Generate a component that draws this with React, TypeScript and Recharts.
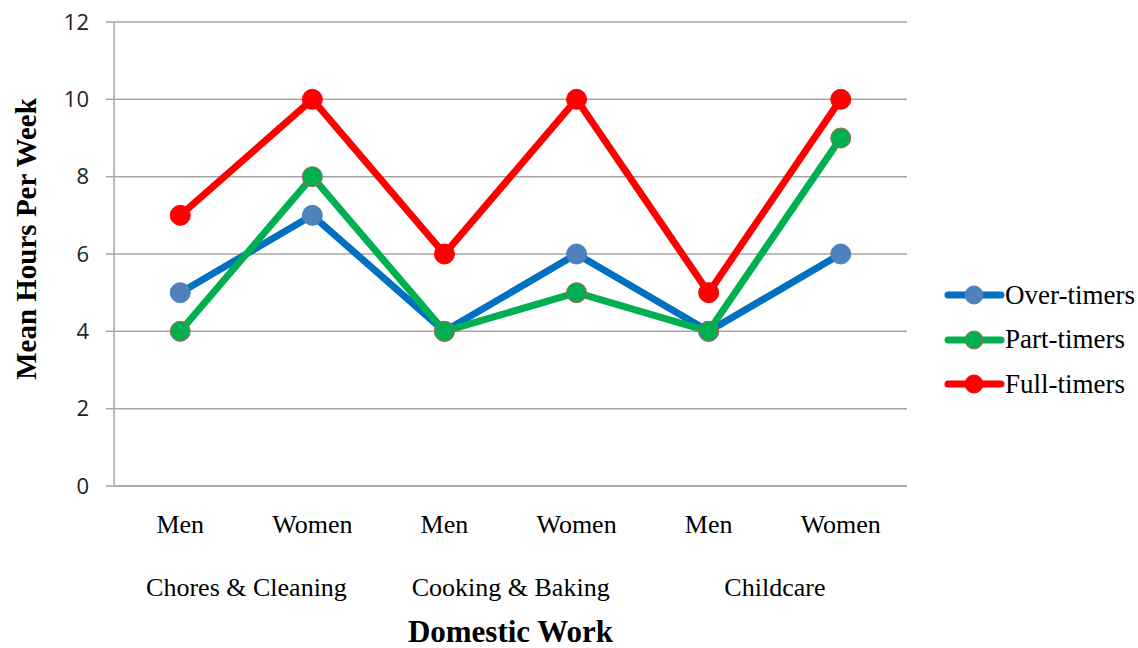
import React from 'react';
import { LineChart, Line, XAxis, YAxis, CartesianGrid } from 'recharts';

const categories = ['Men', 'Women', 'Men', 'Women', 'Men', 'Women'];
const groups = ['Chores & Cleaning', 'Cooking & Baking', 'Childcare'];
const overTimers = [5, 7, 4, 6, 4, 6];
const partTimers = [4, 8, 4, 5, 4, 9];
const fullTimers = [7, 10, 6, 10, 5, 10];
const yTicks = [0, 2, 4, 6, 8, 10, 12];

const data = categories.map((c, i) => ({
    name: c,
    idx: i,
    over: overTimers[i],
    part: partTimers[i],
    full: fullTimers[i],
}));

const series = [
    { key: 'over', label: 'Over-timers', line: '#0070C0', dot: '#4F81BD', dotStroke: '#4F81BD' },
    { key: 'part', label: 'Part-timers', line: '#00B050', dot: '#00B050', dotStroke: '#B0604D' },
    { key: 'full', label: 'Full-timers', line: '#FF0000', dot: '#FF0000', dotStroke: '#FF0000' },
];

const serif = '"Liberation Serif", "Times New Roman", serif';
const sans = '"Open Sans", "Noto Sans", sans-serif';
const BAND = 132.5;

// category label plus the group name centred under each Men/Women pair
const CategoryTick = (props: any) => {
    const { x, y, index } = props;
    return (
        <g>
            <text x={x} y={y + 39} textAnchor="middle" fontFamily={serif} fontSize={26} fill="#000">
                {categories[index]}
            </text>
            {index % 2 === 0 && (
                <text x={x + BAND / 2} y={y + 102} textAnchor="middle" fontFamily={serif} fontSize={26} fill="#000">
                    {groups[index / 2]}
                </text>
            )}
        </g>
    );
};

const LegendBox = () => (
    <div
        style={{
            position: 'absolute',
            left: 943,
            top: 273,
            width: 195,
            fontFamily: serif,
            fontSize: 27,
            color: '#000',
        }}
    >
        {series.map((s) => (
            <div key={s.key} style={{ display: 'flex', alignItems: 'center', height: 44.5, whiteSpace: 'nowrap' }}>
                <svg width={62} height={24} style={{ flex: 'none' }}>
                    <line x1={5} y1={12} x2={58} y2={12} stroke={s.line} strokeWidth={7} strokeLinecap="round" />
                    <circle cx={31} cy={12} r={9} fill={s.dot} stroke={s.dotStroke} strokeWidth={1} />
                </svg>
                <span>{s.label}</span>
            </div>
        ))}
    </div>
);

export default function App() {
    return (
        <div style={{ position: 'absolute', left: 0, top: 0, width: 1138, height: 648, background: '#fff' }}>
            <LineChart
                width={1138}
                height={648}
                data={data}
                margin={{ top: 22, right: 231, left: 0, bottom: 12 }}
            >
                <CartesianGrid vertical={false} stroke="#A6A6A6" strokeWidth={1.5} />
                <XAxis
                    dataKey="idx"
                    type="category"
                    height={150}
                    padding={{ left: BAND / 2, right: BAND / 2 }}
                    axisLine={{ stroke: '#A6A6A6', strokeWidth: 1.5 }}
                    tickLine={false}
                    tick={(p: any) => <CategoryTick {...p} />}
                    interval={0}
                    label={(p: any) => {
                        const vb = p.viewBox || {};
                        return (
                            <text
                                x={vb.x + vb.width / 2}
                                y={642}
                                textAnchor="middle"
                                fontFamily={serif}
                                fontSize={31}
                                fontWeight="bold"
                                fill="#000"
                            >
                                Domestic Work
                            </text>
                        );
                    }}
                />
                <YAxis
                    domain={[0, 12]}
                    ticks={yTicks}
                    width={114}
                    axisLine={{ stroke: '#A6A6A6', strokeWidth: 1.5 }}
                    tickLine={{ stroke: '#A6A6A6', strokeWidth: 1.5 }}
                    tickSize={8}
                    tick={{ fontFamily: sans, fontSize: 22, fill: '#222' }}
                    tickMargin={17}
                    label={() => (
                        <text
                            x={0}
                            y={0}
                            transform="translate(36, 239) rotate(-90)"
                            textAnchor="middle"
                            fontFamily={serif}
                            fontSize={29}
                            fontWeight="bold"
                            fill="#000"
                        >
                            Mean Hours Per Week
                        </text>
                    )}
                />
                {series.map((s) => (
                    <Line
                        key={s.key}
                        dataKey={s.key}
                        name={s.label}
                        stroke={s.line}
                        strokeWidth={7}
                        strokeLinejoin="round"
                        dot={{ r: 10, fill: s.dot, stroke: s.dotStroke, strokeWidth: 1 }}
                        activeDot={false}
                        isAnimationActive={false}
                    />
                ))}
            </LineChart>
            <LegendBox />
        </div>
    );
}
